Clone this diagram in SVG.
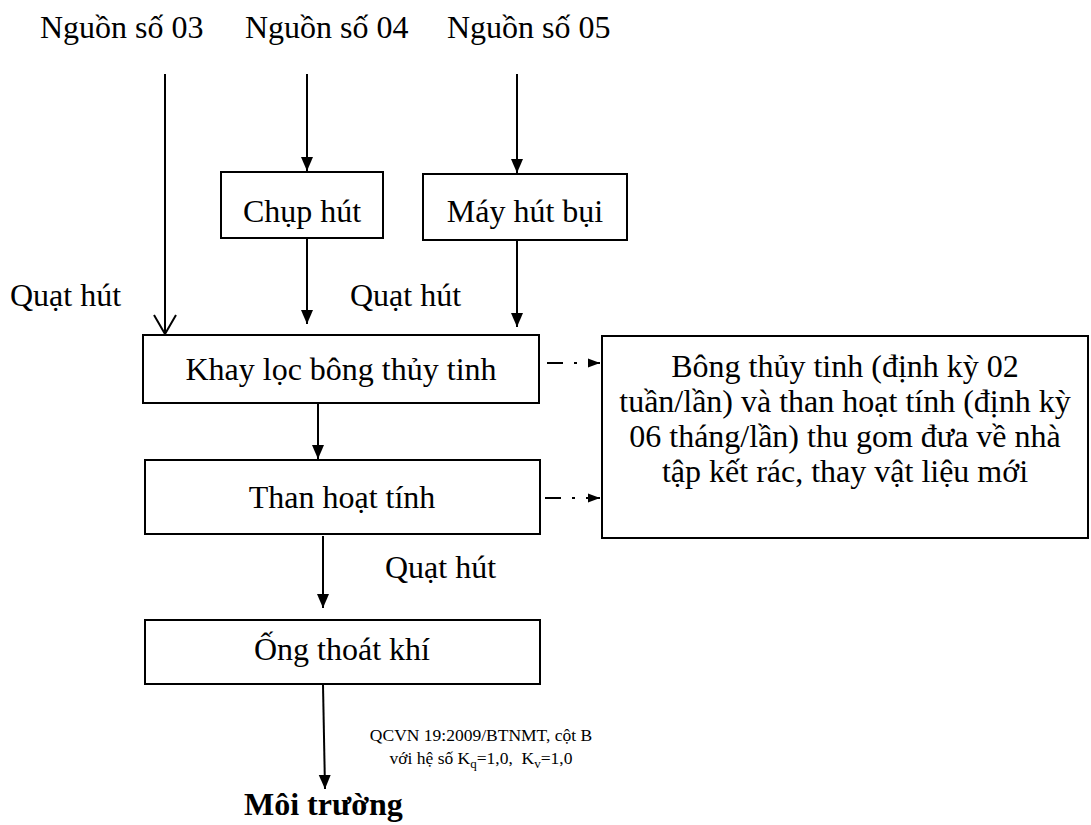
<svg xmlns="http://www.w3.org/2000/svg" width="1091" height="825" viewBox="0 0 1091 825">
<style>
text{font-family:"Liberation Serif","Times New Roman",serif;fill:#000}
.t{font-size:32px}
.c{text-anchor:middle}
.s{font-size:17.5px}
.box{fill:#fff;stroke:#000;stroke-width:2}
.ln{stroke:#000;stroke-width:2;fill:none}
.dd{stroke:#000;stroke-width:2;fill:none;stroke-dasharray:16 11 3 11}
</style>
<defs>
<marker id="fa" markerWidth="14" markerHeight="14" viewBox="0 0 14 14" refX="14" refY="7" orient="auto" markerUnits="userSpaceOnUse">
<path d="M0,1 L14,7 L0,13 Z" fill="#000"/>
</marker>
<marker id="sa" markerWidth="12" markerHeight="12" viewBox="0 0 12 12" refX="12" refY="6" orient="auto" markerUnits="userSpaceOnUse">
<path d="M0,1.5 L12,6 L0,10.5 Z" fill="#000"/>
</marker>
<marker id="oa" markerWidth="22" markerHeight="24" viewBox="0 0 22 24" refX="20" refY="12" orient="auto" markerUnits="userSpaceOnUse">
<path d="M1,1 L20,12 L1,23" fill="none" stroke="#000" stroke-width="2"/>
</marker>
</defs>

<g id="labels">
<text class="t" x="40" y="38">Nguồn số 03</text>
<text class="t" x="245" y="38">Nguồn số 04</text>
<text class="t" x="447" y="38">Nguồn số 05</text>
<text class="t" x="10" y="306">Quạt hút</text>
<text class="t" x="350" y="306">Quạt hút</text>
<text class="t" x="385" y="578">Quạt hút</text>
<text class="s c" x="481" y="741">QCVN 19:2009/BTNMT, cột B</text>
<text class="s c" x="481" y="764">với hệ số K<tspan font-size="13" dy="4">q</tspan><tspan dy="-4">=1,0,&#160; K</tspan><tspan font-size="13" dy="4">v</tspan><tspan dy="-4">=1,0</tspan></text>
</g>

<g id="connectors">
<line class="ln" x1="165" y1="74" x2="165" y2="334" marker-end="url(#oa)"/>
<line class="ln" x1="307" y1="74" x2="307" y2="171" marker-end="url(#fa)"/>
<line class="ln" x1="517" y1="74" x2="517" y2="173" marker-end="url(#fa)"/>
<line class="ln" x1="307" y1="238" x2="307" y2="324" marker-end="url(#fa)"/>
<line class="ln" x1="517" y1="240" x2="517" y2="327" marker-end="url(#fa)"/>
<line class="ln" x1="318" y1="403" x2="318" y2="459" marker-end="url(#fa)"/>
<line class="ln" x1="323" y1="536" x2="323" y2="608" marker-end="url(#fa)"/>
<line class="ln" x1="323" y1="685" x2="325" y2="789" marker-end="url(#fa)"/>
<line class="dd" x1="547" y1="363" x2="600" y2="363" marker-end="url(#sa)"/>
<line class="dd" x1="545" y1="498" x2="600" y2="498" marker-end="url(#sa)"/>
</g>

<g id="chup-hut">
<rect class="box" x="221" y="172" width="162" height="66"/>
<text class="t c" x="302" y="222">Chụp hút</text>
</g>
<g id="may-hut-bui">
<rect class="box" x="423" y="174" width="204" height="66"/>
<text class="t c" x="525" y="222">Máy hút bụi</text>
</g>
<g id="khay-loc">
<rect class="box" x="143" y="335" width="396" height="68"/>
<text class="t c" x="341" y="380">Khay lọc bông thủy tinh</text>
</g>
<g id="than-hoat-tinh">
<rect class="box" x="145" y="460" width="395" height="74"/>
<text class="t c" x="342" y="508">Than hoạt tính</text>
</g>
<g id="ong-thoat-khi">
<rect class="box" x="145" y="620" width="395" height="64"/>
<text class="t c" x="342" y="660">Ống thoát khí</text>
</g>
<g id="thu-gom">
<rect class="box" x="602" y="336" width="486" height="202"/>
<text class="t c" x="845" y="377">Bông thủy tinh (định kỳ 02</text>
<text class="t c" x="845" y="412">tuần/lần) và than hoạt tính (định kỳ</text>
<text class="t c" x="845" y="447">06 tháng/lần) thu gom đưa về nhà</text>
<text class="t c" x="845" y="482">tập kết rác, thay vật liệu mới</text>
</g>
<g id="moi-truong">
<text class="t" x="244" y="815" font-weight="bold">Môi trường</text>
</g>
</svg>
